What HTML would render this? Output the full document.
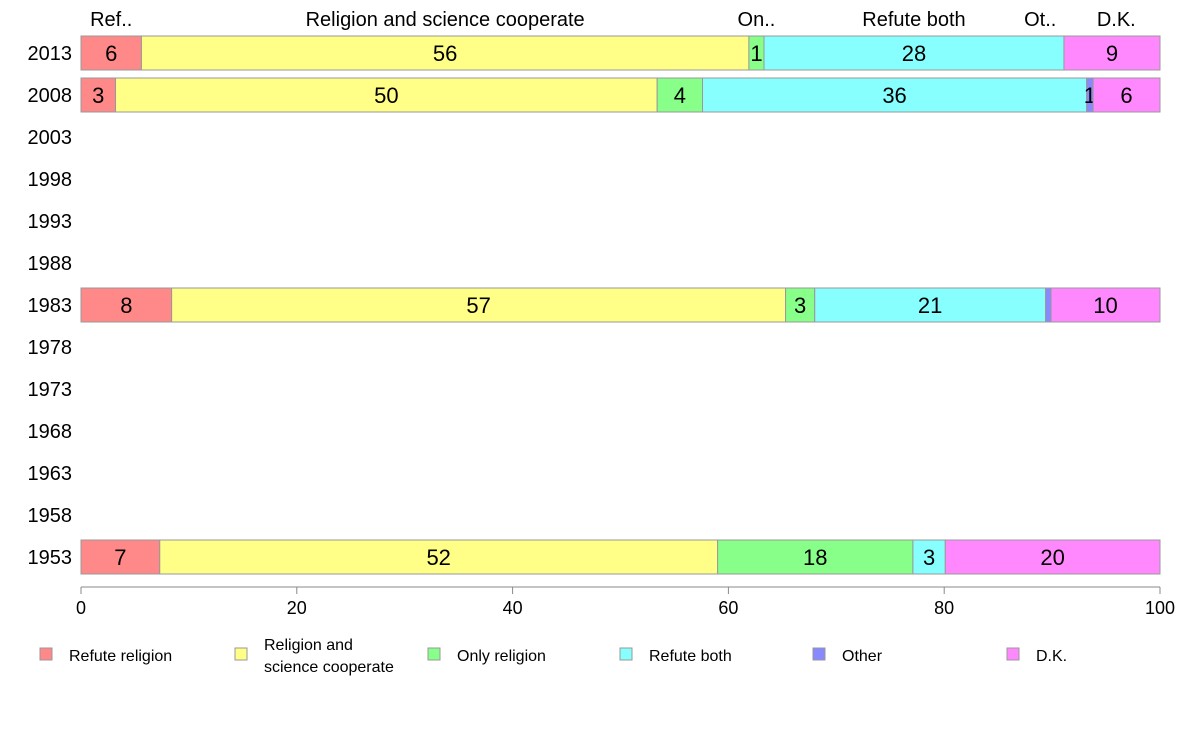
<!DOCTYPE html>
<html><head><meta charset="utf-8"><style>
body{margin:0;background:#fff;font-family:"Liberation Sans",sans-serif;}
svg text{font-family:"Liberation Sans",sans-serif;}
</style></head><body>
<svg id="chart" width="1188" height="736" xmlns="http://www.w3.org/2000/svg"></svg>
<script>
const categories = ["Refute religion","Religion and science cooperate","Only religion","Refute both","Other","D.K."];
const shortNames = ["Ref..","Religion and science cooperate","On..","Refute both","Ot..","D.K."];
const yearTicks = [2013,2008,2003,1998,1993,1988,1983,1978,1973,1968,1963,1958,1953];
const barYears = [2013,2008,1983,1953];
const s2013 = [5.6,56.3,1.4,27.8,0,8.9];
const s2008 = [3.2,50.2,4.2,35.6,0.6,6.2];
const s1983 = [8.4,56.9,2.7,21.4,0.5,10.1];
const s1953 = [7.3,51.7,18.1,3.0,0,19.9];
const xTicks = [0,20,40,60,80,100];
const colors = ["#FF8888","#FFFF88","#88FF88","#88FFFF","#8888FF","#FF88FF"];
const series = [s2013,s2008,s1983,s1953];
const NS="http://www.w3.org/2000/svg";
const svg=document.getElementById('chart');
const X0=81,X1=1160;
function xs(v){return X0+(X1-X0)*v/100;}
function ys(yr){return 53+(2013-yr)/5*42;}
function mk(tag,attrs,parent){const e=document.createElementNS(NS,tag);for(const k in attrs)e.setAttribute(k,attrs[k]);(parent||svg).appendChild(e);return e;}
yearTicks.forEach(yr=>{
  const t=mk('text',{x:72,y:ys(yr)+7,'text-anchor':'end','font-size':20,fill:'#000'});
  
  
  t.textContent=yr;
});
barYears.forEach((yr,i)=>{
  const vals=series[i];let cum=0;const yc=ys(yr);
  vals.forEach((v,j)=>{
    if(v>0){
      const r=mk('rect',{x:xs(cum),y:yc-17,width:xs(cum+v)-xs(cum),height:34,fill:colors[j],stroke:'#999','stroke-width':1});
      
      
      if(v>=0.55){
        const t=mk('text',{x:xs(cum+v/2),y:yc+8,'text-anchor':'middle','font-size':22,fill:'#000'});
        
        
        t.textContent=Math.round(v);
      }
    }
    if(i===0){
      // top labels positioned at segment centers of 2013 (Other placed after cyan)
      let c=cum+(v>0?v/2:0);
      if(j===4) c=cum-2.2;
      if(j===5) c=cum+v/2+0.4;
      const t=mk('text',{x:xs(c),y:26,'text-anchor':'middle','font-size':20,fill:'#000'});
      
      
      t.textContent=shortNames[j];
    }
    cum+=v;
  });
});
const ax=mk('line',{x1:X0,x2:X1,y1:587,y2:587,stroke:'#888'});


xTicks.forEach(v=>{
  const l=mk('line',{x1:xs(v),x2:xs(v),y1:587,y2:594,stroke:'#888'});
  
  
  const t=mk('text',{x:xs(v),y:614,'text-anchor':'middle','font-size':18,fill:'#000'});
  
  
  t.textContent=v;
});
const legX=[40,235,428,620,813,1007];
categories.forEach((c,j)=>{
  const r=mk('rect',{x:legX[j],y:648,width:12,height:12,fill:colors[j],stroke:'#999'});
  
  
  const t=mk('text',{x:legX[j]+29,y:661,'font-size':16,fill:'#000'});
  
  
  if(j===1){
    const a=mk('tspan',{x:legX[j]+29,y:650},t);a.textContent='Religion and';
    const b=mk('tspan',{x:legX[j]+29,y:672},t);b.textContent='science cooperate';
  } else t.textContent=c;
});
</script>
</body></html>
